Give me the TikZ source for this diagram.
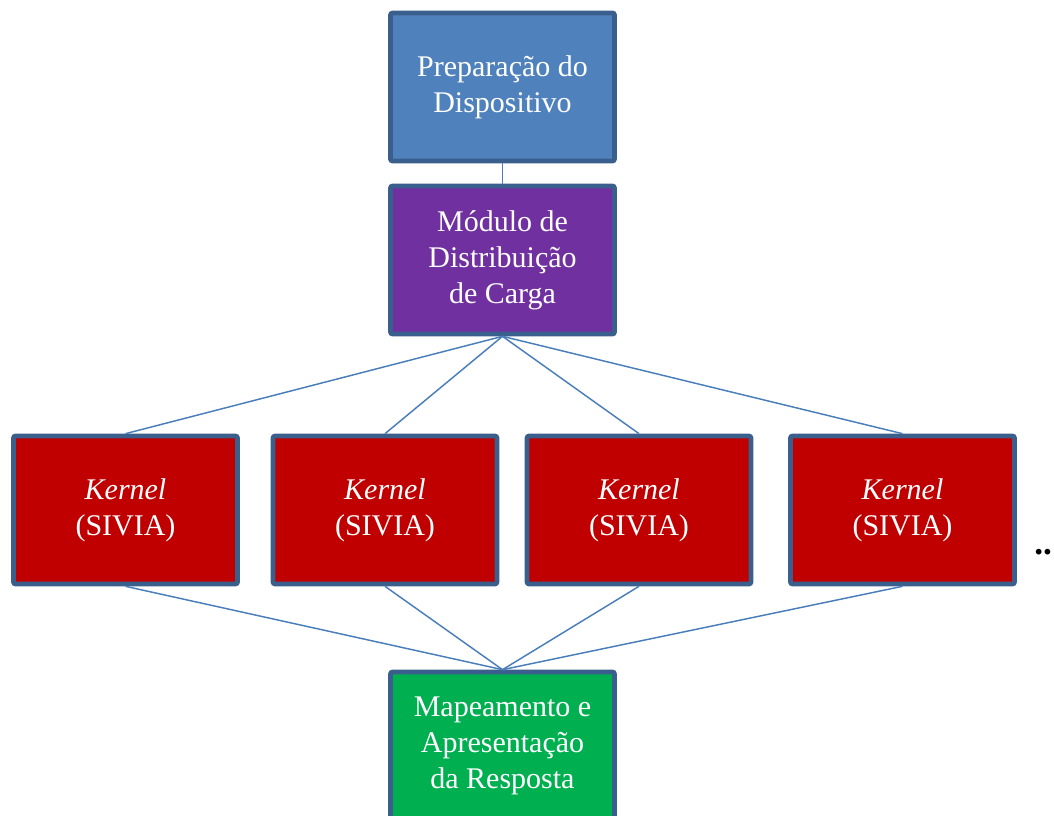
\documentclass[tikz,border=0pt]{standalone}
\usepackage{fontspec}
\setmainfont{Liberation Serif}
\definecolor{stageblue}{HTML}{4F81BD}
\definecolor{stagepurple}{HTML}{7030A0}
\definecolor{stagered}{HTML}{C00000}
\definecolor{stagegreen}{HTML}{00B050}
\definecolor{stageedge}{HTML}{3A5F8D}
\definecolor{linkblue}{HTML}{4A7EBB}
\tikzset{
  stagebox/.style={draw=stageedge, line width=3.5pt, rounded corners=1.5pt, minimum width=168pt, minimum height=111pt, align=center, text=white, font=\fontsize{22.5}{27}\selectfont, inner sep=0pt},
  link/.style={draw=linkblue, line width=1.1pt}
}
\begin{document}
\begin{tikzpicture}[x=0.75pt,y=0.75pt,yscale=-1,xscale=1]
\useasboundingbox (0,0) rectangle (1054,816);

% Stages
\node [stagebox, fill=stageblue] (prep) at (502.5,87) {Preparação do\\Dispositivo};
\node [stagebox, fill=stagepurple] (dist) at (502.5,260) {Módulo de\\Distribuição\\de Carga};
% Kernels
\node [stagebox, fill=stagered] (k1) at (125.5,510) {\textit{Kernel}\\(SIVIA)};
\node [stagebox, fill=stagered] (k2) at (385,510) {\textit{Kernel}\\(SIVIA)};
\node [stagebox, fill=stagered] (k3) at (639,510) {\textit{Kernel}\\(SIVIA)};
\node [stagebox, fill=stagered] (k4) at (902.5,510) {\textit{Kernel}\\(SIVIA)};
\node [stagebox, fill=stagegreen] (map) at (502.5,746) {Mapeamento e\\Apresentação\\da Resposta};

% Text Node
\node [anchor=base west, inner sep=0pt, font=\fontsize{26.5}{27}\selectfont\bfseries] (more) at (1034,555) {..};

% Links
\draw [link] (prep.south) -- (dist.north);
\foreach \k in {k1,k2,k3,k4}
  \draw [link] (dist.south) -- (\k.north);
\foreach \k in {k1,k2,k3,k4}
  \draw [link] (\k.south) -- (map.north);

\end{tikzpicture}
\end{document}
